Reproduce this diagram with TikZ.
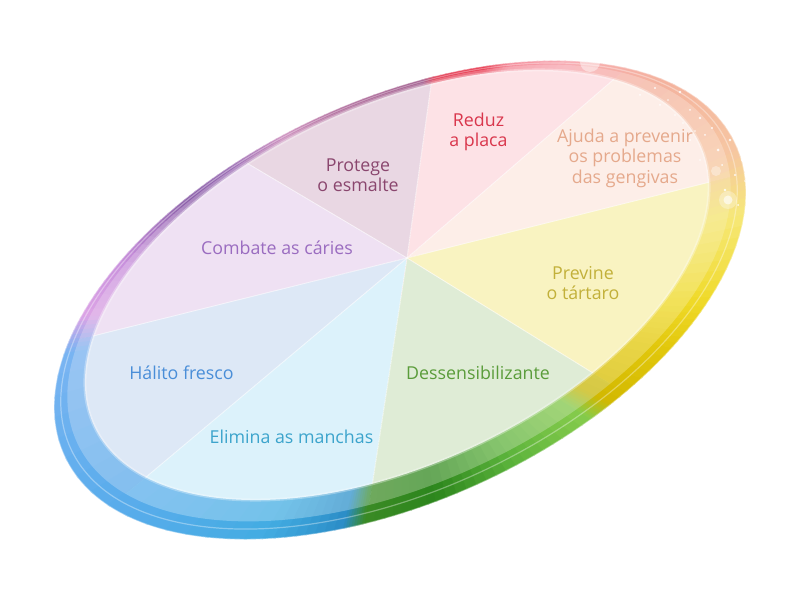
\documentclass[tikz,border=0pt]{standalone}
\usepackage{fontspec}
\setmainfont{Open Sans}
\usetikzlibrary{calc}
% ring colours
\definecolor{Y1}{HTML}{F0DA2A}
\definecolor{Y2}{HTML}{F6E878}
\definecolor{P1}{HTML}{F6C6A2}
\definecolor{P2}{HTML}{F4B29E}
\definecolor{K1}{HTML}{F7AAB2}
\definecolor{K2}{HTML}{F48A98}
\definecolor{R1}{HTML}{E8384E}
\definecolor{R2}{HTML}{E23A52}
\definecolor{M1}{HTML}{9E588A}
\definecolor{M2}{HTML}{B06A9C}
\definecolor{M3}{HTML}{CC8CBC}
\definecolor{U1}{HTML}{9A6CB4}
\definecolor{U2}{HTML}{8A5EA8}
\definecolor{L1}{HTML}{C890DC}
\definecolor{L2}{HTML}{DCA4E6}
\definecolor{B1}{HTML}{7AB4F2}
\definecolor{B2}{HTML}{5AACEC}
\definecolor{B3}{HTML}{42ACE2}
\definecolor{B4}{HTML}{2A8CC6}
\definecolor{G1}{HTML}{3A8A24}
\definecolor{G2}{HTML}{2C861C}
\definecolor{G3}{HTML}{5CB43C}
\definecolor{G4}{HTML}{86CC4C}
\definecolor{O1}{HTML}{D2B800}
\definecolor{O2}{HTML}{E2C80C}
% sector fills
\definecolor{sProt}{HTML}{E9D7E3}
\definecolor{sRed}{HTML}{FDE2E6}
\definecolor{sAju}{HTML}{FDEEE8}
\definecolor{sPrev}{HTML}{F9F3C1}
\definecolor{sDes}{HTML}{DFECD6}
\definecolor{sEli}{HTML}{DCF2FB}
\definecolor{sHal}{HTML}{DDE8F6}
\definecolor{sCom}{HTML}{EFE1F3}
% text colours
\definecolor{tProt}{HTML}{8A466E}
\definecolor{tRed}{HTML}{D9364C}
\definecolor{tAju}{HTML}{E5A98C}
\definecolor{tPrev}{HTML}{C2B03A}
\definecolor{tDes}{HTML}{5A9C3A}
\definecolor{tEli}{HTML}{3CA4CC}
\definecolor{tHal}{HTML}{4A8ED8}
\definecolor{tCom}{HTML}{9A6CC0}
\newcommand\piesector[3]{\fill[#1] (Q) -- ($(Q)!4!(#2)$) -- ($(Q)!4!(#3)$) -- cycle;}
\newcommand\drawwholepie{%
  \piesector{sAju}{b3}{b2}
  \piesector{sRed}{b2}{b1}
  \piesector{sProt}{b1}{b8}
  \piesector{sCom}{b8}{b7}
  \piesector{sHal}{b7}{b6}
  \piesector{sEli}{b6}{b5}
  \piesector{sDes}{b5}{b4}
  \piesector{sPrev}{b4}{b3}}
\begin{document}
\begin{tikzpicture}[x=1pt,y=1pt,
  lbl/.style={font=\fontsize{17.8}{20.5}\selectfont, align=center, inner sep=0pt},
  sparkle/.style={fill=white, opacity=0.85}]
\useasboundingbox (0,0) rectangle (800,601);
\fill[white] (0,0) rectangle (800,601);
\coordinate (C) at (400,301);
\coordinate (Q) at (407,343);
\coordinate (b1) at (431,516);
\coordinate (b2) at (613,521);
\coordinate (b3) at (718,421);
\coordinate (b4) at (580,236);
\coordinate (b5) at (373,121);
\coordinate (b6) at (133,113);
\coordinate (b7) at (105,268);
\coordinate (b8) at (262,429);
% ---- ring colours
\begin{scope}
  \clip[rotate around={25:(400,301)}] (400,301) ellipse [x radius=370pt, y radius=200pt];
  \foreach \a/\ca/\b/\cb in {0/Y1/14/Y2, 14/Y2/24/P1, 24/P1/40/P2, 40/P2/55/K1, 55/K1/65/K2,
      65/K2/70/R1, 70/R1/81/R2, 81/R2/84/M1, 84/M1/110/M2, 110/M2/125/M3, 125/M3/142/U1,
      142/U1/155/U2, 155/U2/172/L1, 172/L1/183/L2, 183/L2/189/B1, 189/B1/215/B2, 215/B2/240/B3,
      240/B3/256/B4, 256/B4/261/G1, 261/G1/280/G2, 280/G2/305/G3, 305/G3/328/G4, 328/G4/334/O1,
      334/O1/350/O2, 350/O2/360/Y1}{
    \foreach \i in {0,...,7}{
      \pgfmathsetmacro\sa{\a+(\b-\a)*\i/8}
      \pgfmathsetmacro\sb{\a+(\b-\a)*(\i+1)/8+0.5}
      \pgfmathtruncatemacro\p{100*(\i+0.5)/8}
      \fill[color=\cb!\p!\ca] (C) -- +(\sa:700pt) -- +(\sb:700pt) -- cycle;
    }
  }
\end{scope}
% ---- pie seen through the glass rim
\begin{scope}
  \clip[rotate around={25:(399,308)}] (399,308) ellipse [x radius=355pt, y radius=190pt];
  \begin{scope}[fill opacity=0.32]
    \drawwholepie
  \end{scope}
\end{scope}
% ---- pie
\begin{scope}
  \clip[rotate around={25:(397,316)}] (397,316) ellipse [x radius=334pt, y radius=179pt];
  \drawwholepie
  \foreach \k in {b1,b2,b3,b4,b5,b6,b7,b8}{
    \draw[white, line width=0.8pt, opacity=0.7] (Q) -- ($(Q)!1.2!(\k)$);
  }
\end{scope}
% ---- glass highlights
\draw[white, line width=3pt, opacity=0.3, rotate around={25:(397,316)}] (397,316) ellipse [x radius=334pt, y radius=179pt];
\draw[white, line width=1.2pt, opacity=0.35, rotate around={25:(399,305)}] (399,305) ellipse [x radius=362pt, y radius=194pt];
\draw[white, line width=1.2pt, opacity=0.4, rotate around={25:(400,301)}] (400,301) ellipse [x radius=370pt, y radius=200pt];
\fill[white, opacity=0.45] (590,539) circle (10pt);
\fill[white, opacity=0.3] (728,401) circle (9pt);
\fill[white, opacity=0.6] (728,401) circle (4.5pt);
\fill[white, opacity=0.35] (716,430) circle (5pt);
\foreach \x/\y/\r in {640/506/1, 655/513/1.2, 668/501/0.9, 680/509/1.3, 690/491/1, 700/483/1.4,
    705/466/1, 712/473/1.2, 718/451/1.5, 722/436/1, 730/461/1.3, 735/426/1.1, 700/441/0.9,
    690/461/1.1, 675/486/0.8, 660/496/1, 725/411/1.4, 738/396/1, 742/441/1.2, 708/500/0.9,
    745/420/0.8, 695/470/0.8, 683/478/0.9}{
  \fill[sparkle] (\x,\y) circle (\r pt);
}
% ---- labels
\node[lbl, text=tProt] (prot) at (358,426) {Protege\\o esmalte};
\node[lbl, text=tRed] (red) at (478.5,469) {Reduz\\a placa};
\node[lbl, text=tAju] (aju) at (625,443) {Ajuda a prevenir\\os problemas\\das gengivas};
\node[lbl, text=tCom] (com) at (277,353) {Combate as cáries};
\node[lbl, text=tPrev] (prev) at (583,318) {Previne\\o tártaro};
\node[lbl, text=tHal] (hal) at (181.5,228.5) {Hálito fresco};
\node[lbl, text=tDes] (des) at (478,228.5) {Dessensibilizante};
\node[lbl, text=tEli] (eli) at (291.5,164.5) {Elimina as manchas};
\end{tikzpicture}
\end{document}
